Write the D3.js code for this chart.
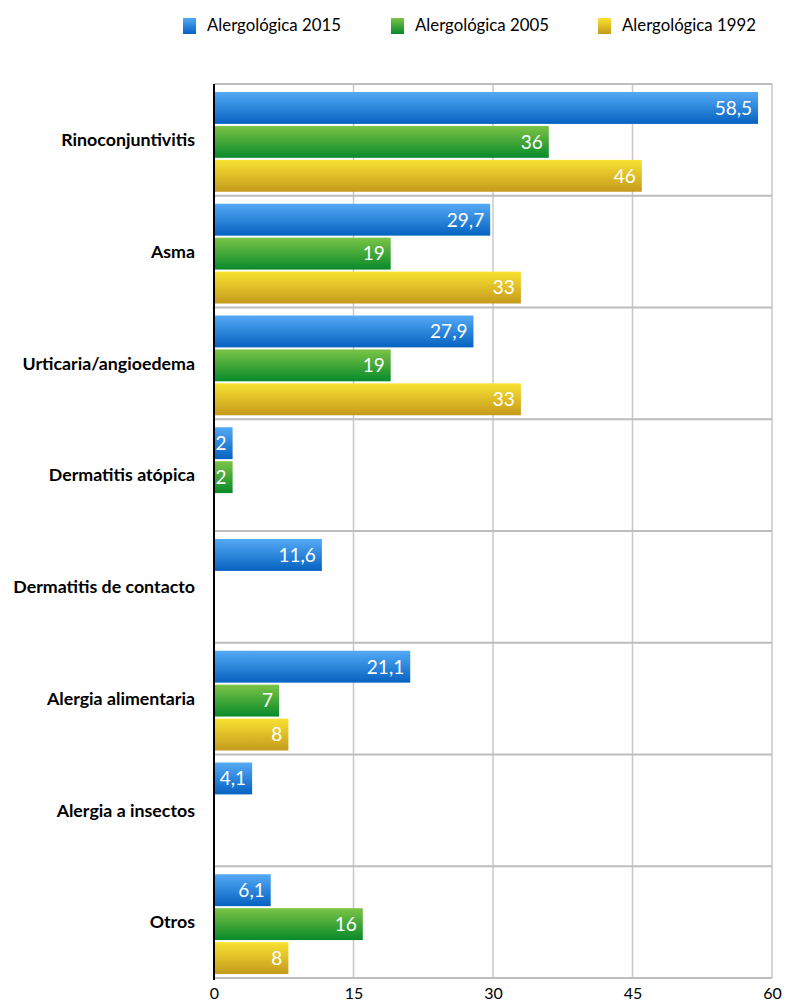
<!DOCTYPE html>
<html>
<head>
<meta charset="utf-8">
<script src="https://cdn.jsdelivr.net/npm/d3@7"></script>
<style>
  html, body { margin: 0; padding: 0; background: #fff; }
  svg { display: block; }
</style>
</head>
<body>
<svg id="chart" width="785" height="1004"></svg>
<script>
const categories = ["Rinoconjuntivitis", "Asma", "Urticaria/angioedema", "Dermatitis atópica",
  "Dermatitis de contacto", "Alergia alimentaria", "Alergia a insectos", "Otros"];
const seriesNames = ["Alergológica 2015", "Alergológica 2005", "Alergológica 1992"];
const values2015 = [58.5, 29.7, 27.9, 2, 11.6, 21.1, 4.1, 6.1];
const values2005 = [36, 19, 19, 2, null, 7, null, 16];
const values1992 = [46, 33, 33, null, null, 8, null, 8];
const xTicks = [0, 15, 30, 45, 60];

const seriesValues = [values2015, values2005, values1992];
const gradStops = [
  ["#55aaf6", "#0562c0"],
  ["#7cc446", "#078a2a"],
  ["#f9e232", "#c49a1c"]
];

const svg = d3.select("#chart");
const margin = { left: 214, right: 13, top: 84, bottom: 26 };
const W = 785, H = 1004;
const x = d3.scaleLinear().domain([0, 60]).range([margin.left, W - margin.right]);
const y = d3.scaleBand().domain(categories).range([margin.top, H - margin.bottom]);
const y1 = d3.scaleBand().domain(d3.range(3)).range([8, y.bandwidth() - 4]).paddingInner(0.06);

const defs = svg.append("defs");
gradStops.forEach((g, i) => {
  const lg = defs.append("linearGradient").attr("id", "g" + i)
    .attr("x1", 0).attr("y1", 0).attr("x2", 0).attr("y2", 1);
  lg.append("stop").attr("offset", "0%").attr("stop-color", g[0]);
  lg.append("stop").attr("offset", "100%").attr("stop-color", g[1]);
});

// vertical gridlines
svg.append("g").selectAll("line").data(xTicks.slice(1)).join("line")
  .attr("x1", d => x(d)).attr("x2", d => x(d))
  .attr("y1", margin.top).attr("y2", H - margin.bottom)
  .attr("stroke", "#c8c8c8").attr("stroke-width", 1.5);

// horizontal separators (top border + between categories + bottom)
const sepPos = categories.map(c => y(c)).concat([H - margin.bottom]);
svg.append("g").selectAll("line").data(sepPos).join("line")
  .attr("x1", margin.left).attr("x2", x(60))
  .attr("y1", d => d).attr("y2", d => d)
  .attr("stroke", "#bdbdbd").attr("stroke-width", 2);

// bars
const rows = [];
categories.forEach((c, ci) => {
  seriesValues.forEach((arr, si) => {
    if (arr[ci] != null) rows.push({ c, si, v: arr[ci] });
  });
});
const gBars = svg.append("g");
gBars.selectAll("rect").data(rows).join("rect")
  .attr("x", x(0))
  .attr("y", d => y(d.c) + y1(d.si))
  .attr("width", d => x(d.v) - x(0))
  .attr("height", y1.bandwidth())
  .attr("fill", d => `url(#g${d.si})`);

const fmt = v => String(v).replace(".", ",");
gBars.selectAll("text").data(rows).join("text")
  .attr("x", d => x(d.v) - 6)
  .attr("y", d => y(d.c) + y1(d.si) + y1.bandwidth() / 2)
  .attr("dy", "0.36em")
  .attr("text-anchor", "end")
  .attr("fill", "#fff")
  .attr("font-family", "Lato, 'Open Sans', sans-serif")
  .attr("font-size", 19)
  .text(d => fmt(d.v));

// left axis line
svg.append("line")
  .attr("x1", x(0)).attr("x2", x(0))
  .attr("y1", margin.top).attr("y2", H - margin.bottom + 2)
  .attr("stroke", "#000").attr("stroke-width", 2);

// category labels
svg.append("g").selectAll("text").data(categories).join("text")
  .attr("x", 195)
  .attr("y", d => y(d) + y.bandwidth() / 2)
  .attr("dy", "0.35em")
  .attr("text-anchor", "end")
  .attr("font-family", "Lato, 'Open Sans', sans-serif")
  .attr("font-weight", "bold")
  .attr("font-size", 17.8)
  .attr("fill", "#000")
  .text(d => d);

// x axis tick labels
const xAxis = d3.axisBottom(x).tickValues(xTicks).tickSize(0).tickPadding(0).tickFormat(d3.format("d"));
const gx = svg.append("g").attr("transform", `translate(0,${H - margin.bottom + 10})`).call(xAxis);
gx.select(".domain").remove();
gx.selectAll("text").attr("font-family", "Lato, 'Open Sans', sans-serif")
  .attr("font-size", 16).attr("fill", "#000");

// legend
const legendX = [183, 391, 598];
const lg = svg.append("g");
seriesNames.forEach((n, i) => {
  const gi = lg.append("g").attr("transform", `translate(${legendX[i]},18)`);
  gi.append("rect").attr("width", 13).attr("height", 16).attr("fill", `url(#g${i})`);
  gi.append("text").attr("x", 24).attr("y", 13)
    .attr("font-family", "Lato, 'Open Sans', sans-serif")
    .attr("font-size", 16.8).attr("fill", "#000").text(n);
});
</script>
</body>
</html>
